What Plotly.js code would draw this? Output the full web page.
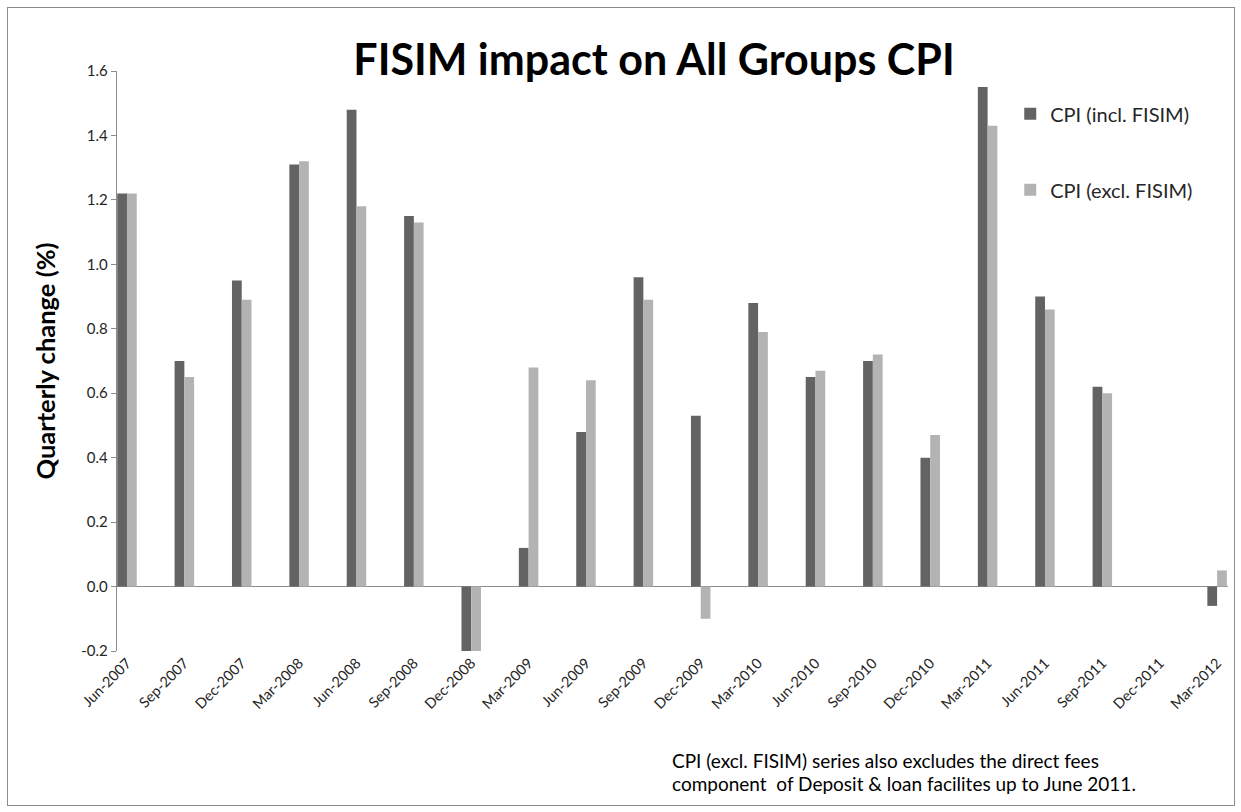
<!DOCTYPE html>
<html>
<head>
<meta charset="utf-8">
<script src="https://cdn.plot.ly/plotly-3.0.1.min.js"></script>
<style>
  body { margin: 0; padding: 0; background: #fff; }
  #wrap { position: relative; width: 1241px; height: 812px; }
  #chart { position: absolute; left: 0; top: 0; width: 1241px; height: 812px; }
  #frame { position: absolute; left: 7px; top: 7px; width: 1226px; height: 797px; border: 1px solid #8c8c8c; pointer-events: none; }
</style>
</head>
<body>
<div id="wrap"><div id="chart"></div><div id="frame"></div></div>
<script>
const quarters = ["Jun-2007","Sep-2007","Dec-2007","Mar-2008","Jun-2008","Sep-2008","Dec-2008",
  "Mar-2009","Jun-2009","Sep-2009","Dec-2009","Mar-2010","Jun-2010","Sep-2010","Dec-2010",
  "Mar-2011","Jun-2011","Sep-2011","Dec-2011","Mar-2012"];
const cpiInclFisim = [1.22, 0.70, 0.95, 1.31, 1.48, 1.15, -0.30,
  0.12, 0.48, 0.96, 0.53, 0.88, 0.65, 0.70, 0.40,
  1.55, 0.90, 0.62, null, -0.06];
const cpiExclFisim = [1.22, 0.65, 0.89, 1.32, 1.18, 1.13, -0.30,
  0.68, 0.64, 0.89, -0.10, 0.79, 0.67, 0.72, 0.47,
  1.43, 0.86, 0.60, null, 0.05];
const yTicks = [-0.2, 0.0, 0.2, 0.4, 0.6, 0.8, 1.0, 1.2, 1.4, 1.6];
const yTickText = ["-0.2","0.0","0.2","0.4","0.6","0.8","1.0","1.2","1.4","1.6"];
const seriesNames = ["CPI (incl. FISIM)", "CPI (excl. FISIM)"];
const titleText = "FISIM impact on All Groups CPI";
const yTitle = "Quarterly change (%)";
const noteLines = ["CPI (excl. FISIM) series also excludes the direct fees",
  "component&nbsp; of Deposit &amp; loan facilites up to June 2011."];

const FONT = "Lato, 'Open Sans', sans-serif";

const traces = [
  { type: "bar", name: seriesNames[0], x: quarters, y: cpiInclFisim,
    marker: { color: "#636363", line: { width: 0 } }, legendgroup: "a", hoverinfo: "x+y" },
  { type: "bar", name: seriesNames[1], x: quarters, y: cpiExclFisim,
    marker: { color: "#b3b3b3", line: { width: 0 } }, legendgroup: "b", hoverinfo: "x+y" }
];

const layout = {
  width: 1241, height: 812,
  margin: { l: 117, r: 13, t: 71, b: 161 },
  paper_bgcolor: "#ffffff", plot_bgcolor: "#ffffff",
  font: { family: FONT, color: "#262626" },
  barmode: "group", bargap: 0.66, bargroupgap: 0,
  title: { text: "<b>" + titleText + "</b>", x: 0.527, xanchor: "center", xref: "container",
    y: 0.926, yanchor: "middle", yref: "container",
    font: { family: FONT, size: 43, color: "#000000" } },
  xaxis: {
    type: "category", range: [-0.174, 19.19], showgrid: false, zeroline: false, showline: false,
    ticks: "", tickangle: -45, tickfont: { family: FONT, size: 14.5, color: "#262626" }
  },
  yaxis: {
    range: [-0.2, 1.6], tickvals: yTicks, ticktext: yTickText, showgrid: false,
    showline: true, linecolor: "#8c8c8c", linewidth: 1.3, ticks: "outside", ticklen: 5,
    tickcolor: "#8c8c8c", tickfont: { family: FONT, size: 15, color: "#262626" },
    zeroline: true, zerolinecolor: "#8c8c8c", zerolinewidth: 1.5,
    title: { text: "<b>" + yTitle + "</b>", standoff: 18, font: { family: FONT, size: 25.5, color: "#000000" } }
  },
  showlegend: true,
  legend: { x: 0.804, xanchor: "left", y: 0.960, yanchor: "top", bgcolor: "rgba(0,0,0,0)",
    tracegroupgap: 47, font: { family: FONT, size: 20, color: "#262626" } },
  annotations: [
    { xref: "paper", yref: "paper", x: 0.4977, y: -0.188, xanchor: "left", yanchor: "middle",
      showarrow: false, text: noteLines[0], font: { family: FONT, size: 19, color: "#000000" } },
    { xref: "paper", yref: "paper", x: 0.4977, y: -0.229, xanchor: "left", yanchor: "middle",
      showarrow: false, text: noteLines[1], font: { family: FONT, size: 19, color: "#000000" } }
  ]
};

Plotly.newPlot("chart", traces, layout, { displayModeBar: false, staticPlot: true });
</script>
</body>
</html>
